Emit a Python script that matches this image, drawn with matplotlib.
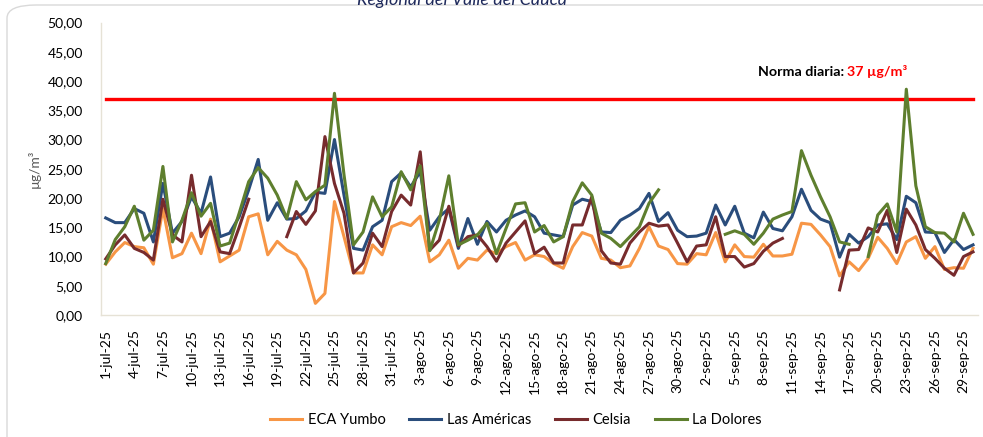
import numpy as np
import matplotlib
matplotlib.use('Agg')
import matplotlib.pyplot as plt
from matplotlib.patches import FancyBboxPatch

plt.rcParams['font.family'] = ['Lato', 'DejaVu Sans']

C_ORANGE = '#F79646'
C_BLUE = '#2A4D7C'
C_DRED = '#772B2D'
C_GREEN = '#5E7F2E'
C_NORM = '#FF0000'

# ── Data (daily means, 1-jul-25 .. 30-sep-25) ──
months = ['jul'] * 31 + ['ago'] * 31 + ['sep'] * 30
day_nums = list(range(1, 32)) + list(range(1, 32)) + list(range(1, 31))
dates = [f'{d}-{m}-25' for d, m in zip(day_nums, months)]

eca_yumbo = [
    8.7, 10.8, 12.4, 11.7, 11.5, 8.7, 18.2, 9.8, 10.5, 14.0,
    10.5, 16.4, 9.1, 10.1, 11.1, 16.8, 17.3, 10.3, 12.6, 11.1,
    10.3, 7.8, 2.0, 3.7, 19.4, 13.4, 7.2, 7.2, 12.0, 10.3,
    15.1, 15.8, 15.3, 16.9, 9.1, 10.3, 12.8, 8.0, 9.7, 9.4,
    11.1, 10.5, 11.7, 12.4, 9.4, 10.3, 10.0, 8.8, 8.0, 11.7,
    14.1, 13.5, 9.7, 9.4, 8.1, 8.4, 11.4, 15.1, 11.8, 11.2,
    8.8, 8.7, 10.5, 10.3, 14.1, 9.1, 12.0, 10.0, 9.9, 12.1,
    10.1, 10.1, 10.4, 15.7, 15.5, 13.7, 11.7, 6.7, 9.1, 7.6,
    9.7, 13.3, 11.4, 8.8, 12.5, 13.4, 9.7, 11.7, 7.8, 8.1,
    8.0, 11.4,
]
las_americas = [
    16.6, 15.8, 15.8, 18.2, 17.4, 12.5, 22.5, 14.0, 16.0, 20.2,
    17.4, 23.6, 13.4, 14.0, 16.8, 21.4, 26.6, 16.2, 19.2, 16.4,
    16.5, 17.8, 21.0, 20.8, 30.0, 20.5, 11.4, 11.1, 15.1, 16.2,
    22.8, 24.3, 21.9, 24.5, 14.5, 16.8, 18.2, 11.4, 16.5, 12.1,
    16.0, 14.2, 16.2, 17.1, 17.8, 16.8, 14.0, 13.7, 13.4, 18.8,
    19.8, 19.4, 14.2, 14.1, 16.2, 17.1, 18.2, 20.8, 16.0, 17.5,
    14.5, 13.4, 13.5, 14.0, 18.8, 15.4, 18.6, 14.0, 13.2, 17.6,
    14.8, 14.4, 16.8, 21.5, 17.9, 16.4, 15.8, 9.9, 13.8, 12.3,
    13.4, 15.4, 15.6, 12.9, 20.3, 19.2, 14.2, 14.1, 10.7, 12.9,
    11.2, 12.0,
]
celsia = [
    9.6, 12.0, 13.7, 11.4, 10.7, 9.4, 19.8, 13.7, 12.5, 23.9,
    13.4, 16.0, 10.8, 10.5, 15.0, 19.8, np.nan, np.nan, np.nan, 13.4,
    17.7, 15.5, 17.8, 30.5, 22.5, 17.4, 7.2, 8.9, 14.0, 11.7,
    17.7, 20.5, 18.8, 27.9, 11.1, 12.8, 18.6, 11.8, 13.4, 13.7,
    11.7, 9.2, 12.3, 14.2, 16.1, 10.5, 11.6, 8.9, 8.9, 15.4,
    15.4, 20.2, 11.0, 8.9, 8.7, 12.3, 14.2, 15.7, 15.2, 15.4,
    12.3, 9.1, 11.8, 12.0, 16.8, 10.0, 10.0, 8.2, 8.8, 10.9,
    12.3, 13.1, np.nan, np.nan, np.nan, np.nan, np.nan, 4.3, 11.1, 11.2,
    14.9, 14.2, 17.9, 10.7, 18.1, 15.4, 11.2, 9.7, 8.0, 6.8,
    10.0, 10.8,
]
la_dolores = [
    8.8, 12.9, 15.1, 18.6, 12.8, 14.5, 25.4, 12.5, 16.2, 20.9,
    16.9, 19.1, 11.8, 12.3, 17.4, 22.8, 25.2, 23.4, 20.5, 16.5,
    22.8, 19.7, 21.1, 22.2, 37.9, 24.0, 12.0, 14.2, 20.2, 16.8,
    18.5, 24.5, 21.4, 25.5, 11.0, 16.2, 23.8, 12.0, 12.8, 13.7,
    15.7, 10.5, 14.8, 19.0, 19.2, 14.2, 15.3, 12.5, 13.4, 19.4,
    22.6, 20.5, 14.0, 13.1, 11.7, 13.4, 15.1, 19.1, 21.4, np.nan,
    np.nan, np.nan, np.nan, np.nan, np.nan, 13.8, 14.4, 13.8, 12.1, 14.0,
    16.4, 17.1, 17.7, 28.1, 23.9, 20.2, 16.8, 12.5, 12.1, np.nan,
    10.0, 17.1, 19.0, 14.2, 38.6, 22.1, 15.1, 14.1, 14.0, 12.5,
    17.4, 13.8,
]
norma = 37
y_ticks = [0, 5, 10, 15, 20, 25, 30, 35, 40, 45, 50]

x = np.arange(len(dates))

fig = plt.figure(figsize=(9.83, 4.37), dpi=100)
ax = fig.add_axes([0.1027, 0.279, 0.892, 0.6695])

# chart border (rounded) and cut-off title
fig.patches.append(FancyBboxPatch((7 / 983, -0.2), 1.2, 1.2 - 5 / 437,
                                  boxstyle='round,pad=0,rounding_size=0.03',
                                  transform=fig.transFigure, fc='none',
                                  ec='#D9D9D9', lw=1.0, zorder=0))
fig.text(462 / 983, 1 - 5 / 437, 'Regional del Valle del Cauca',
         ha='center', va='baseline', fontsize=13, fontstyle='italic',
         color='#1F2A5C')

ax.plot(x, np.full(len(x), norma), color=C_NORM, lw=2.4, zorder=2)
ax.plot(x, eca_yumbo, color=C_ORANGE, lw=2.2, label='ECA Yumbo', zorder=3)
ax.plot(x, las_americas, color=C_BLUE, lw=2.2, label='Las Américas', zorder=3)
ax.plot(x, celsia, color=C_DRED, lw=2.2, label='Celsia', zorder=3)
ax.plot(x, la_dolores, color=C_GREEN, lw=2.2, label='La Dolores', zorder=3)

t1 = ax.text(68.4, 40.8, 'Norma diaria: ', fontsize=10.3, fontweight='bold',
             color='#000000', ha='left', va='baseline')
ax.annotate(f'{norma} µg/m³', xy=(1, 0), xycoords=t1, fontsize=10.3,
            fontweight='bold', color=C_NORM, ha='left', va='bottom')

ax.set_xlim(-0.5, len(x) - 0.5)
ax.set_ylim(0, 50)
ax.set_yticks(y_ticks)
ax.set_yticklabels([f'{v:.2f}'.replace('.', ',') for v in y_ticks])
ax.set_xticks(x[::3])
ax.set_xticklabels(dates[::3], rotation=90)
ax.tick_params(axis='both', length=0, labelsize=10, colors='#000000')
ax.tick_params(axis='x', pad=10)
ax.tick_params(axis='y', pad=13)
ax.set_ylabel('µg/m³', fontsize=10, color='#595959', labelpad=5)

for side in ['top', 'right']:
    ax.spines[side].set_visible(False)
for side in ['left', 'bottom']:
    ax.spines[side].set_color('#E6E2D6')
    ax.spines[side].set_linewidth(1.0)

ax.legend(loc='center', bbox_to_anchor=(0.525, 0.039),
          bbox_transform=fig.transFigure, ncol=4, frameon=False,
          fontsize=10.5, handlelength=2.2, columnspacing=1.6,
          handletextpad=0.4)

fig.savefig('out.png', dpi=100)
